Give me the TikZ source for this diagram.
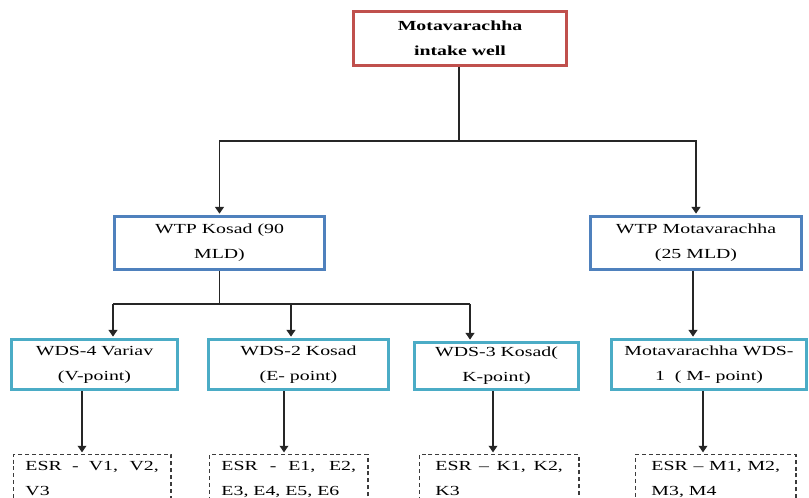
\documentclass[tikz,border=0pt]{standalone}
\usepackage{fontspec}
\setmainfont{Liberation Serif}[FakeStretch=1.43]
\usetikzlibrary{arrows.meta}
\definecolor{boxred}{HTML}{C0504D}
\definecolor{boxblue}{HTML}{4F81BD}
\definecolor{boxcyan}{HTML}{4BACC6}
\definecolor{linegray}{HTML}{262626}
\tikzset{
  txt/.style={font=\fontsize{10.4pt}{18.75pt}\selectfont, text=black},
  box/.style={draw, line width=2.25pt, fill=white, align=center, inner sep=0pt, txt},
  redbox/.style={box, draw=boxred, font=\bfseries\fontsize{10.4pt}{18.75pt}\selectfont},
  bluebox/.style={box, draw=boxblue, minimum height=39.75pt},
  cyanbox/.style={box, draw=boxcyan, minimum height=37.5pt},
  esrbox/.style={draw=linegray!90, dashed, dash pattern=on 3pt off 2.2pt, line width=1.1pt,
    anchor=north west, inner ysep=5pt, align=justify, txt},
  conn/.style={draw=linegray, line width=1.2pt},
  arr/.style={conn, -{Triangle[width=6.5pt,length=5pt]}, shorten >=1pt},
}
\begin{document}
\begin{tikzpicture}[x=0.75pt,y=-0.75pt]
\useasboundingbox (0,0) rectangle (809,498);
\clip (0,0) rectangle (809,498);

% boxes
\node[redbox, minimum width=159.75pt, minimum height=40.5pt] (intake) at (460,38.5) {Motavarachha\\intake well};
\node[bluebox, minimum width=157.5pt] (wtpK) at (219.5,243) {WTP Kosad (90\\MLD)};
\node[bluebox, minimum width=158.25pt] (wtpM) at (696,243) {WTP Motavarachha\\(25 MLD)};
\node[cyanbox, minimum width=124.5pt] (wds4) at (94.5,364.5) {WDS-4 Variav\\(V-point)};
\node[cyanbox, minimum width=135pt] (wds2) at (298.5,364.5) {WDS-2 Kosad\\(E- point)};
\node[cyanbox, minimum width=123pt, minimum height=35.25pt] (wds3) at (496.5,366) {WDS-3 Kosad(\\K-point)};
\node[cyanbox, minimum width=146.25pt] (wdsM) at (709,364.5) {Motavarachha WDS-\\1\ \ ( M- point)};

\node[esrbox, inner xsep=9pt, text width=100pt] (esrV) at (12.75,453.75) {ESR - V1, V2, V3};
\node[esrbox, inner xsep=9pt, text width=100.9pt] (esrE) at (208.75,453.75) {ESR - E1, E2, E3, E4, E5, E6};
\node[esrbox, inner xsep=12pt, text width=95.6pt] (esrK) at (418.75,453.75) {ESR -- K1, K2, K3};
\node[esrbox, inner xsep=12pt, text width=96.4pt] (esrM) at (634.75,453.75) {ESR -- M1, M2, M3, M4};

% junction coordinates
\coordinate (j1) at (459,141);
\coordinate (b4) at (113,304);
\coordinate (b2) at (291,304);
\coordinate (b3) at (470,304);
\coordinate (mx) at (693,300);
\coordinate (c4) at (82,420);
\coordinate (c2) at (284,420);
\coordinate (c3) at (493,420);
\coordinate (cm) at (703,420);

% connectors
\draw[conn] (intake.south -| j1) -- (j1);
\draw[arr] (j1) -| (wtpK.north);
\draw[arr] (j1) -| (wtpM.north);

\draw[conn] (wtpK.south) -- (wtpK.south |- b4);
\draw[conn] (b4) -- (b3);
\draw[arr] (b4) -- (b4 |- wds4.north);
\draw[arr] (b2) -- (b2 |- wds2.north);
\draw[arr] (b3) -- (b3 |- wds3.north);

\draw[arr] (wtpM.south -| mx) -- (wdsM.north -| mx);

\draw[arr] (wds4.south -| c4) -- (esrV.north -| c4);
\draw[arr] (wds2.south -| c2) -- (esrE.north -| c2);
\draw[arr] (wds3.south -| c3) -- (esrK.north -| c3);
\draw[arr, line width=2pt] (wdsM.south -| cm) -- (esrM.north -| cm);
\end{tikzpicture}
\end{document}
